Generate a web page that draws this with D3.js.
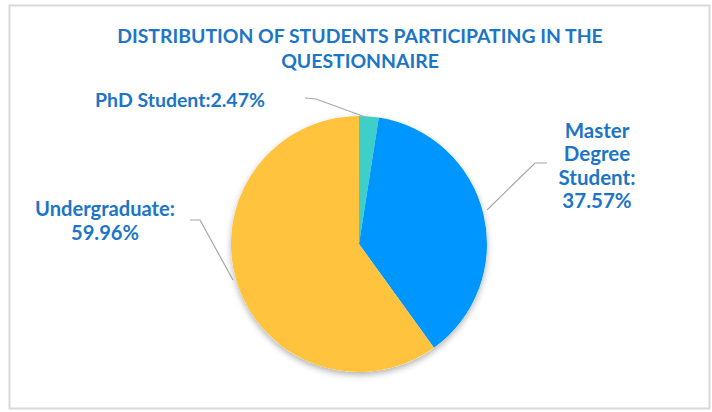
<!DOCTYPE html>
<html><head><meta charset="utf-8">
<script src="https://cdn.jsdelivr.net/npm/d3@7"></script>
<style>html,body{margin:0;padding:0;background:#fff;}svg{display:block;}</style>
</head><body>
<svg id="c" width="712" height="412"></svg>
<script>
const categories = ["PhD Student", "Master Degree Student", "Undergraduate"];
const values = [2.47, 37.57, 59.96];
const labelLines = [["PhD Student:2.47%"], ["Master", "Degree", "Student:", "37.57%"], ["Undergraduate:", "59.96%"]];
const colors = ["#3DCFC8", "#0096FF", "#FFC33D"];
const titleLines = ["DISTRIBUTION OF STUDENTS PARTICIPATING IN THE", "QUESTIONNAIRE"];

const svg = d3.select("#c");
const textColor = "#1C75C7";
const font = "Lato, 'Open Sans', sans-serif";

svg.append("rect").attr("x", 9.5).attr("y", 5.5).attr("width", 700).attr("height", 403)
  .attr("fill", "#fff").attr("stroke", "#d9d9d9").attr("stroke-width", 2);

const defs = svg.append("defs");
const f = defs.append("filter").attr("id", "sh").attr("x", "-20%").attr("y", "-20%").attr("width", "140%").attr("height", "140%");
f.append("feDropShadow").attr("dx", 0).attr("dy", 3).attr("stdDeviation", 3).attr("flood-color", "#000").attr("flood-opacity", 0.3);

function fitText(sel, target) {
  const w = sel.node().getComputedTextLength();
  const fs = parseFloat(sel.attr("font-size"));
  sel.attr("font-size", fs * target / w);
}

// title
const t1 = svg.append("text").attr("x", 360).attr("y", 43).attr("text-anchor", "middle")
  .attr("font-family", font).attr("font-weight", "bold").attr("font-size", 18).attr("fill", textColor).text(titleLines[0]);
fitText(t1, 486);
const tfs = t1.attr("font-size");
svg.append("text").attr("x", 360).attr("y", 68).attr("text-anchor", "middle")
  .attr("font-family", font).attr("font-weight", "bold").attr("font-size", tfs).attr("fill", textColor).text(titleLines[1]);

// pie
const cx = 359, cy = 244, r = 128;
const pie = d3.pie().sort(null).value(d => d)(values);
const arc = d3.arc().innerRadius(0).outerRadius(r);
const g = svg.append("g").attr("transform", `translate(${cx},${cy})`);
g.append("circle").attr("r", r).attr("fill", "#fff").attr("filter", "url(#sh)");
g.selectAll("path").data(pie).join("path").attr("d", arc).attr("fill", (d, i) => colors[i]);

// leader lines
const leaderStarts = [[305, 98], [547, 163], [190, 220]];
const leaderElbows = [[316, 99], [535, 163], [200, 220]];
const leaderEnds = [[368, 118], [487, 210], [233, 280]];
pie.forEach((d, i) => {
  svg.append("polyline")
    .attr("points", [leaderStarts[i], leaderElbows[i], leaderEnds[i]].map(p => p.join(",")).join(" "))
    .attr("fill", "none").attr("stroke", "#a6a6a6").attr("stroke-width", 1.2);
});

// labels
const labelPos = [[180, 107], [597, 137.5], [105, 215.5]];
const lineHs = [25, 23.5, 24.5];
const fitIdx = [0, 2, 0];
const fitW = [170, 77, 140];
labelLines.forEach((lines, i) => {
  const [x, y] = labelPos[i];
  const probe = svg.append("text").attr("font-family", font).attr("font-weight", "bold").attr("font-size", 16).text(lines[fitIdx[i]]);
  fitText(probe, fitW[i]);
  const fs = probe.attr("font-size");
  probe.remove();
  const t = svg.append("text").attr("text-anchor", "middle").attr("font-family", font).attr("font-weight", "bold")
    .attr("font-size", fs).attr("fill", textColor);
  lines.forEach((ln, j) => t.append("tspan").attr("x", x).attr("y", y + j * lineHs[i]).text(ln));
});
</script>
</body></html>
